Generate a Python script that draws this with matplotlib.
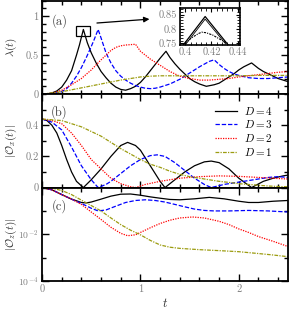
import matplotlib
matplotlib.use('Agg')
import matplotlib.pyplot as plt
from matplotlib.patches import Rectangle
from matplotlib.ticker import MultipleLocator, FixedLocator, NullFormatter

plt.rcParams['font.family'] = 'serif'
plt.rcParams['font.serif'] = ['cmr10', 'DejaVu Serif']
plt.rcParams['mathtext.fontset'] = 'cm'
plt.rcParams['axes.unicode_minus'] = False

# ---- panel (a): lambda(t)
t_a4 = [0, 0.05, 0.1, 0.15, 0.2, 0.25, 0.3, 0.35, 0.38, 0.42, 0.46, 0.5, 0.55, 0.6, 0.65, 0.7, 0.75, 0.8,
        0.85, 0.9, 0.95, 1.0, 1.05, 1.1, 1.15, 1.2, 1.26, 1.3, 1.35, 1.4, 1.45, 1.5, 1.55, 1.6, 1.67, 1.75,
        1.8, 1.85, 1.9, 1.95, 2.0, 2.05, 2.13, 2.2, 2.25, 2.3, 2.35, 2.4, 2.45, 2.5]
lam4 = [0, 0.003, 0.015, 0.04, 0.09, 0.18, 0.30, 0.50, 0.63, 0.83, 0.66, 0.53, 0.40, 0.29, 0.21, 0.14, 0.09, 0.06,
        0.05, 0.07, 0.10, 0.15, 0.22, 0.30, 0.38, 0.46, 0.55, 0.47, 0.39, 0.32, 0.26, 0.20, 0.16, 0.13, 0.10, 0.12,
        0.14, 0.18, 0.22, 0.26, 0.31, 0.35, 0.40, 0.33, 0.29, 0.26, 0.23, 0.20, 0.18, 0.16]
t_a3 = [0, 0.1, 0.2, 0.25, 0.3, 0.35, 0.4, 0.45, 0.5, 0.53, 0.57, 0.6, 0.65, 0.7, 0.75, 0.8, 0.85, 0.9, 0.95,
        1.0, 1.05, 1.1, 1.15, 1.2, 1.3, 1.4, 1.5, 1.6, 1.7, 1.75, 1.8, 1.85, 1.9, 1.95, 2.0, 2.05, 2.1, 2.15,
        2.2, 2.3, 2.4, 2.5]
lam3 = [0, 0.005, 0.03, 0.07, 0.14, 0.23, 0.34, 0.47, 0.61, 0.70, 0.83, 0.72, 0.53, 0.40, 0.30, 0.23, 0.18, 0.14, 0.11,
        0.09, 0.075, 0.07, 0.075, 0.09, 0.13, 0.19, 0.27, 0.35, 0.42, 0.44, 0.38, 0.33, 0.29, 0.26, 0.24, 0.225, 0.21, 0.205,
        0.20, 0.20, 0.21, 0.22]
t_a2 = [0, 0.1, 0.2, 0.3, 0.4, 0.5, 0.6, 0.7, 0.75, 0.8, 0.85, 0.9, 0.95, 1.0, 1.05, 1.1, 1.2, 1.3, 1.4, 1.5,
        1.6, 1.7, 1.8, 1.9, 2.0, 2.1, 2.2, 2.3, 2.4, 2.5]
lam2 = [0, 0.01, 0.05, 0.12, 0.20, 0.31, 0.44, 0.56, 0.60, 0.62, 0.63, 0.635, 0.64, 0.55, 0.50, 0.45, 0.37, 0.29, 0.23, 0.20,
        0.18, 0.18, 0.19, 0.20, 0.22, 0.235, 0.25, 0.265, 0.28, 0.29]
t_a1 = [0, 0.2, 0.4, 0.6, 0.8, 1.0, 1.1, 1.2, 1.4, 1.6, 1.8, 2.0, 2.2, 2.5]
lam1 = [0, 0.03, 0.08, 0.13, 0.18, 0.22, 0.23, 0.235, 0.235, 0.235, 0.235, 0.235, 0.24, 0.24]

# inset of (a)
ins_t = [0.3985, 0.4152, 0.4328]
ins_outer = [0.745, 0.843, 0.745]
ins_t2 = [0.4005, 0.4152, 0.4310]
ins_inner = [0.748, 0.834, 0.748]
ins_td = [0.3998, 0.405, 0.410, 0.4126, 0.416, 0.421, 0.426, 0.4318]
ins_dash = [0.751, 0.770, 0.784, 0.789, 0.787, 0.779, 0.766, 0.751]

# ---- panel (b): |O_x(t)|
t_b4 = [0, 0.05, 0.1, 0.15, 0.2, 0.25, 0.3, 0.35, 0.42, 0.5, 0.6, 0.7, 0.8, 0.87, 0.95, 1.0, 1.1, 1.2, 1.25,
        1.35, 1.45, 1.55, 1.65, 1.72, 1.8, 1.9, 2.0, 2.13, 2.25, 2.35, 2.45, 2.5]
ox4 = [0.44, 0.43, 0.40, 0.35, 0.27, 0.18, 0.10, 0.04, 0.0, 0.05, 0.12, 0.20, 0.27, 0.29, 0.27, 0.24, 0.14, 0.04, 0.0,
       0.05, 0.10, 0.14, 0.165, 0.17, 0.16, 0.12, 0.06, 0.0, 0.04, 0.06, 0.075, 0.08]
t_b3 = [0, 0.1, 0.2, 0.3, 0.4, 0.5, 0.57, 0.65, 0.7, 0.8, 0.9, 1.0, 1.1, 1.17, 1.25, 1.35, 1.45, 1.55, 1.65,
        1.72, 1.85, 2.0, 2.15, 2.3, 2.4, 2.5]
ox3 = [0.44, 0.42, 0.37, 0.26, 0.14, 0.05, 0.0, 0.02, 0.04, 0.09, 0.14, 0.18, 0.205, 0.21, 0.20, 0.16, 0.11, 0.06, 0.02,
       0.0, 0.02, 0.035, 0.05, 0.065, 0.07, 0.065]
t_b2 = [0, 0.1, 0.2, 0.3, 0.4, 0.5, 0.6, 0.7, 0.8, 0.9, 0.95, 1.05, 1.2, 1.4, 1.6, 1.8, 2.0, 2.2, 2.4, 2.5]
ox2 = [0.44, 0.43, 0.41, 0.35, 0.27, 0.18, 0.12, 0.06, 0.025, 0.005, 0.0, 0.02, 0.04, 0.06, 0.07, 0.075, 0.072, 0.065,
       0.058, 0.055]
t_b1 = [0, 0.2, 0.4, 0.6, 0.8, 1.0, 1.1, 1.2, 1.3, 1.4, 1.5, 1.6, 1.7, 1.8, 1.9, 2.0, 2.1, 2.2, 2.3, 2.4, 2.5]
ox1 = [0.44, 0.43, 0.39, 0.33, 0.25, 0.18, 0.15, 0.13, 0.105, 0.085, 0.07, 0.06, 0.05, 0.04, 0.033, 0.025, 0.02, 0.015,
       0.01, 0.007, 0.005]

# ---- panel (c): |O_z(t)|
t_c4 = [0, 0.1, 0.2, 0.3, 0.4, 0.45, 0.5, 0.6, 0.7, 0.8, 0.9, 1.0, 1.1, 1.2, 1.3, 1.4, 1.55, 1.7, 1.85, 2.0,
        2.1, 2.2, 2.35, 2.5]
oz4 = [1.0, 0.8, 0.5, 0.32, 0.23, 0.22, 0.24, 0.32, 0.43, 0.52, 0.53, 0.47, 0.40, 0.35, 0.31, 0.30, 0.33, 0.38, 0.33, 0.26,
       0.23, 0.23, 0.26, 0.28]
t_c3 = [0, 0.1, 0.2, 0.3, 0.4, 0.5, 0.57, 0.65, 0.75, 0.85, 0.95, 1.05, 1.15, 1.25, 1.35, 1.45, 1.55, 1.65, 1.75,
        1.9, 2.1, 2.3, 2.5]
oz3 = [1.0, 0.8, 0.5, 0.32, 0.21, 0.13, 0.10, 0.11, 0.16, 0.23, 0.28, 0.30, 0.28, 0.24, 0.19, 0.15, 0.12, 0.105, 0.10,
       0.10, 0.105, 0.10, 0.09]
t_c2 = [0, 0.1, 0.2, 0.3, 0.4, 0.5, 0.6, 0.7, 0.8, 0.87, 0.95, 1.0, 1.1, 1.2, 1.3, 1.4, 1.53, 1.65, 1.8, 1.9,
        2.0, 2.1, 2.2, 2.35, 2.5]
oz2 = [1.0, 0.8, 0.5, 0.32, 0.19, 0.09, 0.043, 0.02, 0.011, 0.0087, 0.0095, 0.012, 0.019, 0.029, 0.040, 0.050, 0.055,
       0.05, 0.036, 0.026, 0.017, 0.012, 0.008, 0.005, 0.003]
t_c1 = [0, 0.1, 0.2, 0.3, 0.4, 0.5, 0.6, 0.7, 0.8, 0.9, 1.0, 1.1, 1.2, 1.3, 1.4, 1.6, 1.8, 2.0, 2.2, 2.35, 2.5]
oz1 = [1.0, 0.93, 0.75, 0.5, 0.29, 0.17, 0.10, 0.05, 0.026, 0.015, 0.0095, 0.0055, 0.0035, 0.0028, 0.0025, 0.0022,
       0.002, 0.0018, 0.0015, 0.0013, 0.0011]

labels = [r'$D=4$', r'$D=3$', r'$D=2$', r'$D=1$']
colors = ['black', '#0000ff', '#ff0000', '#9c9c10']
styles = ['-', (0, (3.5, 1.5)), (0, (1, 1)), (0, (3, 1, 1, 1))]
tick_grey = '#808080'

fig = plt.figure(figsize=(2.9, 3.14), dpi=100)
gs = fig.add_gridspec(3, 1, left=0.145, right=0.993, top=0.998, bottom=0.105, hspace=0)
ax_a = fig.add_subplot(gs[0])
ax_b = fig.add_subplot(gs[1], sharex=ax_a)
ax_c = fig.add_subplot(gs[2], sharex=ax_a)

series_a = [(t_a4, lam4), (t_a3, lam3), (t_a2, lam2), (t_a1, lam1)]
series_b = [(t_b4, ox4), (t_b3, ox3), (t_b2, ox2), (t_b1, ox1)]
series_c = [(t_c4, oz4), (t_c3, oz3), (t_c2, oz2), (t_c1, oz1)]

for i in range(4):
    ax_a.plot(*series_a[i], color=colors[i], ls=styles[i], lw=0.9)
    ax_b.plot(*series_b[i], color=colors[i], ls=styles[i], lw=0.9, label=labels[i])
    ax_c.plot(*series_c[i], color=colors[i], ls=styles[i], lw=0.9)

ax_a.set_ylim(0, 1.2)
ax_a.set_yticks([0, 0.5, 1])
ax_a.set_yticklabels(['0', '0.5', '1'])
ax_a.yaxis.set_minor_locator(MultipleLocator(0.1))

ax_b.set_ylim(0, 0.6)
ax_b.set_yticks([0, 0.2, 0.4])
ax_b.set_yticklabels(['0', '0.2', '0.4'])
ax_b.yaxis.set_minor_locator(MultipleLocator(0.1))

ax_c.set_yscale('log')
ax_c.set_ylim(1e-4, 1)
ax_c.yaxis.set_major_locator(FixedLocator([1e-4, 1e-2, 1]))
ax_c.set_yticklabels([r'$10^{-4}$', r'$10^{-2}$', ''])
ax_c.yaxis.set_minor_locator(FixedLocator([1e-3, 1e-1]))
ax_c.yaxis.set_minor_formatter(NullFormatter())

ax_c.set_xlim(0, 2.5)
ax_c.set_xticks([0, 1, 2])
ax_c.set_xticklabels(['0', '1', '2'])
ax_c.xaxis.set_minor_locator(MultipleLocator(0.2))

for ax in (ax_a, ax_b, ax_c):
    ax.tick_params(which='both', direction='in', top=True, right=True, width=1.0,
                   labelsize=7.5, labelcolor=tick_grey, pad=2.5)
    ax.tick_params(which='major', length=5)
    ax.tick_params(which='minor', length=3)
    for s in ax.spines.values():
        s.set_linewidth(1.3)
    ax.yaxis.set_label_coords(-0.095, 0.5)
ax_a.tick_params(labelbottom=False)
ax_b.tick_params(labelbottom=False)
ax_c.tick_params(axis='y', labelsize=7)

ax_a.set_ylabel(r'$\lambda(t)$', fontsize=8, color='#333333')
ax_b.set_ylabel(r'$|\mathcal{O}_x(t)|$', fontsize=8, color='#333333')
ax_c.set_ylabel(r'$|\mathcal{O}_z(t)|$', fontsize=8, color='#333333')
ax_c.set_xlabel(r'$t$', fontsize=9, color='#333333', labelpad=2)

ax_a.text(0.07, 0.78, '(a)', transform=ax_a.transAxes, fontsize=9, color='#444444', ha='center', va='center')
ax_b.text(0.07, 0.81, '(b)', transform=ax_b.transAxes, fontsize=9, color='#444444', ha='center', va='center')
ax_c.text(0.07, 0.80, '(c)', transform=ax_c.transAxes, fontsize=9, color='#444444', ha='center', va='center')

ax_b.legend(loc='upper right', bbox_to_anchor=(0.97, 0.97), frameon=False, fontsize=8,
            handlelength=2.0, handletextpad=0.6, labelspacing=0.15, borderpad=0.2)

# zoom box and arrow in (a)
ax_a.add_patch(Rectangle((0.345, 0.74), 0.145, 0.14, fill=False, ec='black', lw=0.9))
ax_a.annotate('', xy=(1.12, 0.965), xytext=(0.53, 0.91),
              arrowprops=dict(arrowstyle='-|>', color='black', lw=0.9, mutation_scale=8))

ins = fig.add_axes([0.621, 0.857, 0.207, 0.118])
ins.plot(ins_t, ins_outer, color='black', lw=0.9)
ins.plot(ins_t2, ins_inner, color='black', lw=0.6)
ins.plot(ins_td, ins_dash, color='black', lw=0.8, ls=(0, (2, 1, 1, 1)))
ins.set_xlim(0.396, 0.442)
ins.set_ylim(0.745, 0.873)
ins.set_xticks([0.4, 0.42, 0.44])
ins.set_xticklabels(['0.4', '0.42', '0.44'])
ins.set_yticks([0.75, 0.8, 0.85])
ins.set_yticklabels(['0.75', '0.8', '0.85'])
ins.xaxis.set_minor_locator(MultipleLocator(0.004))
ins.yaxis.set_minor_locator(MultipleLocator(0.01))
ins.tick_params(which='both', direction='in', top=True, right=True, labelsize=7.5,
                labelcolor=tick_grey, pad=2)
ins.tick_params(which='major', length=3)
ins.tick_params(which='minor', length=2)
for s in ins.spines.values():
    s.set_linewidth(1.2)

fig.savefig('out.png', dpi=100)
